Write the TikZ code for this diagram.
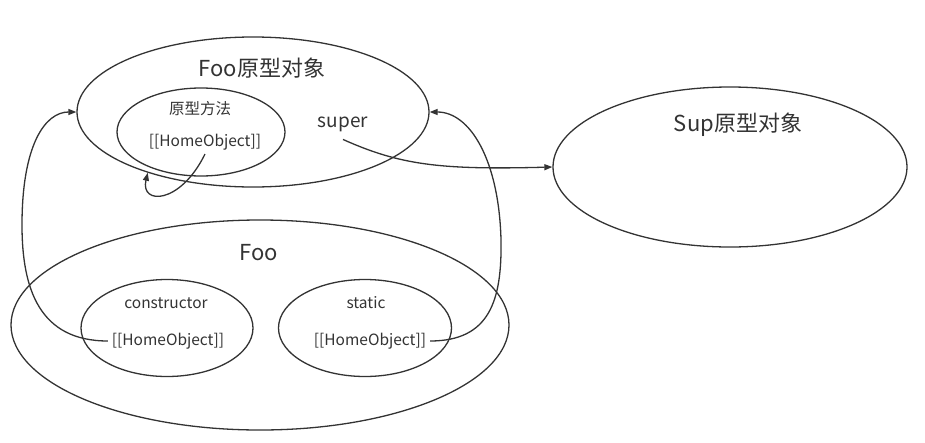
\documentclass[tikz,border=0pt]{standalone}
\usepackage{fontspec}
\setmainfont{Noto Sans CJK SC}
\usetikzlibrary{shapes.geometric,arrows.meta}
\definecolor{inkgray}{HTML}{333333}
\begin{document}
\begin{tikzpicture}[x=1pt,y=-1pt,color=inkgray,line width=1.3pt,
    >={Triangle[length=8pt,width=6pt]},
    blob/.style 2 args={ellipse,draw,inner sep=0pt,
        minimum width=#1,minimum height=#2},
    bigtxt/.style={font=\fontsize{22}{26}\selectfont},
    midtxt/.style={font=\fontsize{19}{23}\selectfont},
    smalltxt/.style={font=\fontsize{15.5}{19}\selectfont}]
    \useasboundingbox (0,0) rectangle (925,442);

    % prototype object of Foo
    \node[blob={352pt}{150pt}] (fooproto) at (253,112) {};
    \node[bigtxt] (fooproto-label) at (262,68) {Foo原型对象};
    \node[blob={168pt}{88pt}] (protomethod) at (201,132) {};
    \node[smalltxt] (protomethod-label) at (200,109) {原型方法};
    \node[smalltxt] (protohome) at (205,142) {[[HomeObject]]};
    \node[midtxt] (super) at (343,124) {super};

    % prototype object of Sup
    \node[blob={354pt}{160pt}] (supproto) at (730,167) {};
    \node[bigtxt] (supproto-label) at (738,125) {Sup原型对象};

    % class Foo
    \node[blob={498pt}{210pt}] (foo) at (260,325) {};
    \node[bigtxt] (foo-label) at (259,253) {Foo};
    \node[blob={172pt}{97pt}] (ctor) at (167,328) {};
    \node[smalltxt] (ctor-label) at (166,303) {constructor};
    \node[smalltxt] (ctorhome) at (168,341) {[[HomeObject]]};
    \node[blob={173pt}{97pt}] (static) at (365,328) {};
    \node[smalltxt] (static-label) at (366,303) {static};
    \node[smalltxt] (stathome) at (370,341) {[[HomeObject]]};

    % [[HomeObject]] links
    \draw[->] (protohome.south)
        .. controls (180,205) and (140,205) .. (fooproto.210);
    \draw[->] (ctorhome.west)
        .. controls (40,341) and (22,290) .. (22,225)
        .. controls (22,145) and (45,112) .. (fooproto.west);
    \draw[->] (stathome.east)
        .. controls (490,341) and (502,300) .. (501,240)
        .. controls (499,160) and (470,112) .. (fooproto.east);
    \draw[->] ([yshift=-4pt]super.south)
        .. controls (400,165) and (440,170) .. (supproto.west);
\end{tikzpicture}
\end{document}
